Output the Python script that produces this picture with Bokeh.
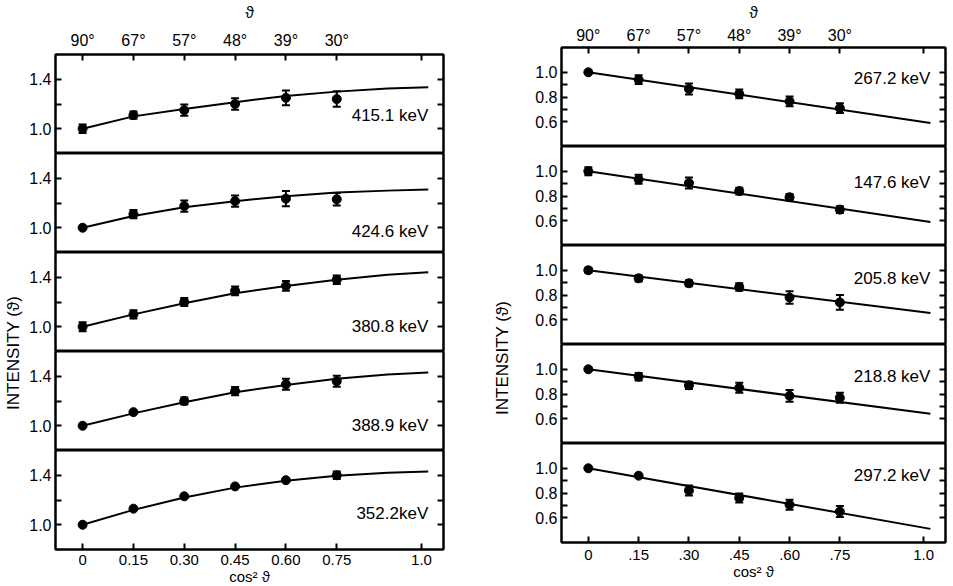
from bokeh.plotting import figure
from bokeh.models import (LinearAxis, FixedTicker, Whisker, TeeHead, ColumnDataSource,
                          Range1d, Label)
from bokeh.layouts import row, column
from bokeh.embed import file_html
from bokeh.resources import INLINE

# ---------------- data ----------------
x_pts = [0.0, 0.15, 0.30, 0.45, 0.60, 0.75]
x_ticks = [0.0, 0.15, 0.30, 0.45, 0.60, 0.75, 1.0]
theta_labels = ["90°", "67°", "57°", "48°", "39°", "30°", ""]
left_bottom_labels = ["0", "0.15", "0.30", "0.45", "0.60", "0.75", "1.0"]
right_bottom_labels = ["0", ".15", ".30", ".45", ".60", ".75", "1.0"]

left_energies = ["415.1 keV", "424.6 keV", "380.8 keV", "388.9 keV", "352.2keV"]
left_y = [
    [1.00, 1.11, 1.15, 1.20, 1.25, 1.24],
    [1.00, 1.11, 1.175, 1.215, 1.235, 1.23],
    [1.00, 1.10, 1.20, 1.29, 1.33, 1.38],
    [1.00, 1.11, 1.20, 1.28, 1.335, 1.36],
    [1.00, 1.13, 1.23, 1.31, 1.36, 1.40],
]
left_err = [
    [0.035, 0.03, 0.045, 0.047, 0.06, 0.063],
    [0.0, 0.033, 0.045, 0.045, 0.062, 0.05],
    [0.037, 0.033, 0.033, 0.035, 0.04, 0.035],
    [0.0, 0.0, 0.028, 0.033, 0.045, 0.045],
    [0.0, 0.0, 0.0, 0.0, 0.0, 0.03],
]
left_curve_x = [0.0, 0.15, 0.30, 0.45, 0.60, 0.75, 0.90, 1.02]
left_curve_y = [
    [1.00, 1.10, 1.16, 1.215, 1.265, 1.30, 1.325, 1.335],
    [1.00, 1.095, 1.165, 1.215, 1.255, 1.285, 1.30, 1.31],
    [1.00, 1.10, 1.19, 1.27, 1.33, 1.38, 1.42, 1.44],
    [1.00, 1.10, 1.19, 1.27, 1.33, 1.38, 1.415, 1.43],
    [1.00, 1.12, 1.22, 1.30, 1.355, 1.395, 1.42, 1.43],
]
left_yticks = [1.0, 1.2, 1.4]
left_ytick_labels = ["1.0", "", "1.4"]

right_energies = ["267.2 keV", "147.6 keV", "205.8 keV", "218.8 keV", "297.2 keV"]
right_y = [
    [1.00, 0.94, 0.865, 0.825, 0.765, 0.71],
    [1.00, 0.935, 0.905, 0.84, 0.79, 0.69],
    [1.00, 0.935, 0.895, 0.865, 0.78, 0.74],
    [1.00, 0.94, 0.87, 0.85, 0.785, 0.77],
    [1.00, 0.94, 0.82, 0.76, 0.705, 0.65],
]
right_err = [
    [0.0, 0.035, 0.045, 0.035, 0.04, 0.04],
    [0.033, 0.036, 0.044, 0.027, 0.027, 0.027],
    [0.02, 0.025, 0.025, 0.03, 0.05, 0.06],
    [0.0, 0.03, 0.03, 0.04, 0.047, 0.04],
    [0.0, 0.0, 0.04, 0.036, 0.04, 0.044],
]
right_line_x = [0.0, 1.02]
right_line_y = [
    [1.00, 0.59],
    [1.00, 0.59],
    [1.00, 0.655],
    [1.00, 0.64],
    [1.00, 0.51],
]
right_yticks = [0.6, 0.7, 0.8, 0.9, 1.0]
right_ytick_labels = ["0.6", "", "0.8", "", "1.0"]

# ---------------- layout / style ----------------
FONT = "Liberation Sans"
XR = (-0.08, 1.065)
left_label_y = [1.11, 0.97, 1.0, 1.0, 1.09]
right_label_y = [0.95, 0.91, 0.93, 0.945, 0.94]

LEFT_GEOM = dict(fw=388, fh=99, bl=31, br=5, bt=52, bb=38, yr=(0.8, 1.6),
                 top_std=(6, 8), bot_std=5)
RIGHT_GEOM = dict(fw=384, fh=99, bl=46, br=2, bt=47, bb=42, yr=(0.4, 1.2),
                  top_std=(4, 3), bot_std=7)


def style_axis(ax, size="15px"):
    ax.major_tick_in = 6
    ax.major_tick_out = 0
    ax.minor_tick_in = 0
    ax.minor_tick_out = 0
    ax.axis_line_color = "black"
    ax.axis_line_width = 2
    ax.major_tick_line_color = "black"
    ax.major_tick_line_width = 2
    ax.major_label_text_font = FONT
    ax.major_label_text_font_size = size
    ax.major_label_text_color = "black"
    ax.axis_label_text_font = FONT
    ax.axis_label_text_font_style = "normal"
    ax.axis_label_text_color = "black"


def make_panel(i, n, energy, ys, errs, cx, cy, yticks, ylabels, label_y,
               bottom_labels, g):
    top = i == 0
    bot = i == n - 1
    p = figure(frame_width=g["fw"], frame_height=g["fh"],
               x_range=Range1d(*XR), y_range=Range1d(*g["yr"]),
               x_axis_location=None, y_axis_location=None,
               toolbar_location=None, output_backend="svg",
               min_border_left=g["bl"], min_border_right=g["br"],
               min_border_top=g["bt"] if top else 0,
               min_border_bottom=g["bb"] if bot else 0)
    p.grid.visible = False
    p.outline_line_color = "black"
    p.outline_line_width = 2
    p.background_fill_color = "white"
    p.border_fill_color = "white"

    lax = LinearAxis(ticker=FixedTicker(ticks=yticks, minor_ticks=[]),
                     major_label_overrides=dict(zip(yticks, ylabels)))
    style_axis(lax, "16px")
    lax.major_label_standoff = 4
    p.add_layout(lax, "left")

    rax = LinearAxis(ticker=FixedTicker(ticks=yticks, minor_ticks=[]),
                     major_label_overrides={t: "" for t in yticks})
    style_axis(rax)
    rax.major_label_standoff = 0
    p.add_layout(rax, "right")

    if top:
        tax = LinearAxis(ticker=FixedTicker(ticks=x_ticks, minor_ticks=[]),
                         major_label_overrides=dict(zip(x_ticks, theta_labels)),
                         axis_label="ϑ")
        style_axis(tax, "16px")
        tax.major_label_standoff = g["top_std"][0]
        tax.axis_label_standoff = g["top_std"][1]
        tax.axis_label_text_font_size = "16px"
        p.add_layout(tax, "above")
    if bot:
        bax = LinearAxis(ticker=FixedTicker(ticks=x_ticks, minor_ticks=[]),
                         major_label_overrides=dict(zip(x_ticks, bottom_labels)),
                         axis_label="cos² ϑ")
        style_axis(bax, "15px")
        bax.major_label_standoff = g["bot_std"]
        bax.axis_label_standoff = 0
        bax.axis_label_text_font_size = "15px"
        p.add_layout(bax, "below")

    p.line(cx, cy, line_color="black", line_width=2)

    ex = [x for x, e in zip(x_pts, errs) if e > 0]
    eu = [y + e for y, e in zip(ys, errs) if e > 0]
    el = [y - e for y, e in zip(ys, errs) if e > 0]
    if ex:
        src = ColumnDataSource(dict(x=ex, up=eu, lo=el))
        w = Whisker(source=src, base="x", upper="up", lower="lo",
                    line_color="black", line_width=2,
                    upper_head=TeeHead(size=8, line_width=2, line_color="black"),
                    lower_head=TeeHead(size=8, line_width=2, line_color="black"))
        p.add_layout(w)
    p.scatter(x_pts, ys, size=9, color="black")

    p.add_layout(Label(x=1.02, y=label_y, text=energy, text_align="right",
                       text_baseline="middle", text_font=FONT,
                       text_font_size="17px", text_color="black"))
    return p


def label_fig(w, h, xc, yc):
    p = figure(frame_width=w, frame_height=h, x_range=Range1d(0, w),
               y_range=Range1d(h, 0), x_axis_location=None, y_axis_location=None,
               toolbar_location=None, output_backend="svg",
               min_border_left=0, min_border_right=0, min_border_top=0,
               min_border_bottom=0)
    p.grid.visible = False
    p.outline_line_color = None
    p.add_layout(Label(x=xc, y=h - yc, x_units="screen", y_units="screen",
                       text="INTENSITY  (ϑ)", angle=1.5707963, text_align="center",
                       text_baseline="middle", text_font=FONT,
                       text_font_size="17px", text_color="black"))
    return p


left_panels = [make_panel(i, 5, left_energies[i], left_y[i], left_err[i],
                          left_curve_x, left_curve_y[i], left_yticks,
                          left_ytick_labels, left_label_y[i], left_bottom_labels,
                          LEFT_GEOM) for i in range(5)]
right_panels = [make_panel(i, 5, right_energies[i], right_y[i], right_err[i],
                           right_line_x, right_line_y[i], right_yticks,
                           right_ytick_labels, right_label_y[i], right_bottom_labels,
                           RIGHT_GEOM) for i in range(5)]

left_h = LEFT_GEOM["bt"] + 5 * LEFT_GEOM["fh"] + LEFT_GEOM["bb"]
right_h = RIGHT_GEOM["bt"] + 5 * RIGHT_GEOM["fh"] + RIGHT_GEOM["bb"]

layout = row(label_fig(24, left_h, 13, 350), column(*left_panels),
             label_fig(67, right_h, 54, 355), column(*right_panels))

open("out.html", "w").write(file_html(layout, INLINE))
